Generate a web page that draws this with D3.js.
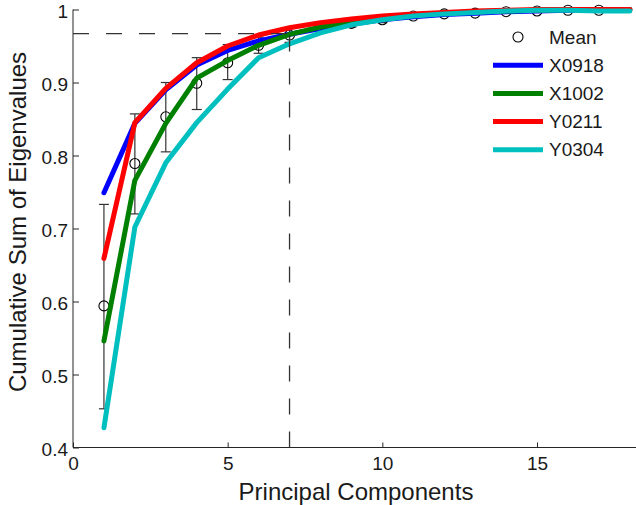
<!DOCTYPE html>
<html>
<head>
<meta charset="utf-8">
<script src="https://cdn.jsdelivr.net/npm/d3@7"></script>
<style>
  html, body { margin: 0; padding: 0; background: #fff; }
  svg { display: block; font-family: "Liberation Sans", Arial, Helvetica, sans-serif; }
</style>
</head>
<body>
<svg id="chart" width="636" height="505"></svg>
<script>
// ---- data ----
const components = [1,2,3,4,5,6,7,8,9,10,11,12,13,14,15,16,17,18];
const meanComponents = [1,2,3,4,5,6,7,8,9,10,11,12,13,14,15,16,17];
const meanValues  = [0.594,0.789,0.853,0.899,0.927,0.951,0.965,0.975,0.981,0.986,0.991,0.994,0.995,0.997,0.998,0.999,0.999];
const meanLower   = [0.453,0.720,0.805,0.863,0.904,0.940,0.955,0.968,0.976,0.982,0.988,0.992,0.993,0.996,0.997,0.998,0.998];
const meanUpper   = [0.733,0.857,0.900,0.934,0.952,0.962,0.975,0.982,0.986,0.990,0.994,0.996,0.997,0.998,0.999,1.000,1.000];
const seriesNames = ["X0918","X1002","Y0211","Y0304"];
const X0918 = [0.749,0.844,0.890,0.924,0.944,0.957,0.966,0.974,0.980,0.986,0.990,0.993,0.995,0.997,0.998,0.999,1.000,1.000];
const X1002 = [0.546,0.766,0.844,0.906,0.930,0.951,0.966,0.976,0.983,0.988,0.992,0.995,0.997,0.998,0.999,1.000,1.000,1.000];
const Y0211 = [0.659,0.845,0.892,0.927,0.950,0.965,0.975,0.982,0.987,0.991,0.994,0.996,0.998,0.999,1.000,1.000,1.000,1.000];
const Y0304 = [0.427,0.702,0.790,0.845,0.891,0.934,0.953,0.968,0.979,0.986,0.991,0.994,0.996,0.998,0.999,0.999,0.998,0.998];
const seriesColors = ["#0000ff","#008000","#ff0000","#00bfbf"];
const xTicks = [0,5,10,15];
const yTicks = [0.4,0.5,0.6,0.7,0.8,0.9,1];
const threshold = 0.967;
const cutoff = 7;
const xLabel = "Principal Components";
const yLabel = "Cumulative Sum of Eigenvalues";

// ---- layout ----
const svg = d3.select("#chart");
const x = d3.scaleLinear().domain([0, 18.2]).range([73, 636]);
const y = d3.scaleLinear().domain([0.4, 1]).range([447.5, 9.5]);
const axisColor = "#262626";

// axes
const xAxis = svg.append("g").attr("transform", `translate(0,${y(0.4)})`)
  .call(d3.axisBottom(x).tickValues(xTicks).tickSizeInner(-5).tickSizeOuter(0).tickPadding(9).tickFormat(d3.format("d")));
const yAxis = svg.append("g").attr("transform", `translate(${x(0)},0)`)
  .call(d3.axisLeft(y).tickValues(yTicks).tickSizeInner(-6).tickSizeOuter(0).tickPadding(5).tickFormat(d => d === 1 ? "1" : d3.format(".1f")(d)));
[xAxis, yAxis].forEach(g => {
  g.select(".domain").attr("stroke", axisColor).attr("stroke-width", 1);
  g.selectAll(".tick line").attr("stroke", axisColor);
  g.selectAll(".tick text").attr("fill", "#1a1a1a").style("font-size", "19px").style("font-family", '"Liberation Sans", Arial, sans-serif');
});
yAxis.selectAll(".tick text").attr("dy", "0.42em");
// extend x axis line to the right edge
xAxis.select(".domain").attr("d", `M${x(0)},0H636`);
yAxis.select(".domain").attr("d", `M0,${y(0.4)}V${y(1)}`);

// error bars
const eb = svg.append("g").attr("stroke", "#333").attr("stroke-width", 1.2).attr("fill", "none");
meanComponents.forEach((c, i) => {
  const cx = x(c);
  eb.append("line").attr("x1", cx).attr("x2", cx).attr("y1", y(meanLower[i])).attr("y2", y(meanUpper[i]));
  eb.append("line").attr("x1", cx - 5).attr("x2", cx + 5).attr("y1", y(meanLower[i])).attr("y2", y(meanLower[i]));
  eb.append("line").attr("x1", cx - 5).attr("x2", cx + 5).attr("y1", y(meanUpper[i])).attr("y2", y(meanUpper[i]));
});
svg.append("g").selectAll("circle").data(meanComponents).join("circle")
  .attr("cx", d => x(d)).attr("cy", (d, i) => y(meanValues[i])).attr("r", 5)
  .attr("fill", "none").attr("stroke", "#000").attr("stroke-width", 1.1);

// series lines
const seriesData = [X0918, X1002, Y0211, Y0304];
const line = d3.line().x((d, i) => x(components[i])).y(d => y(d));
seriesData.forEach((vals, k) => {
  svg.append("path").attr("d", line(vals)).attr("fill", "none")
    .attr("stroke", seriesColors[k]).attr("stroke-width", 5)
    .attr("stroke-linejoin", "round").attr("stroke-linecap", "round");
});

// threshold dashed lines
svg.append("line").attr("x1", x(0)).attr("x2", x(cutoff)).attr("y1", y(threshold)).attr("y2", y(threshold))
  .attr("stroke", "#333").attr("stroke-width", 1.3).attr("stroke-dasharray", "16,17");
svg.append("line").attr("x1", x(cutoff)).attr("x2", x(cutoff)).attr("y1", y(0.4)).attr("y2", y(threshold))
  .attr("stroke", "#333").attr("stroke-width", 1.3).attr("stroke-dasharray", "16,17");

// legend
const lg = svg.append("g");
const legendX = 493, legendTextX = 549, legendY0 = 37, legendStep = 28.2;
lg.append("circle").attr("cx", legendX + 25).attr("cy", legendY0).attr("r", 5)
  .attr("fill", "none").attr("stroke", "#000").attr("stroke-width", 1.1);
lg.append("text").attr("x", legendTextX).attr("y", legendY0).attr("dy", "0.35em")
  .style("font-size", "19px").attr("fill", "#1a1a1a").text("Mean");
seriesNames.forEach((name, k) => {
  const yy = legendY0 + legendStep * (k + 1);
  lg.append("line").attr("x1", legendX).attr("x2", legendX + 50).attr("y1", yy).attr("y2", yy)
    .attr("stroke", seriesColors[k]).attr("stroke-width", 5);
  lg.append("text").attr("x", legendTextX).attr("y", yy).attr("dy", "0.35em")
    .style("font-size", "19px").attr("fill", "#1a1a1a").text(name);
});

// axis titles
svg.append("text").attr("x", 356).attr("y", 500).attr("text-anchor", "middle")
  .style("font-size", "24px").attr("fill", "#1a1a1a").text(xLabel);
svg.append("text").attr("transform", "translate(26,222) rotate(-90)").attr("text-anchor", "middle")
  .style("font-size", "24px").attr("fill", "#1a1a1a").text(yLabel);
</script>
</body>
</html>
